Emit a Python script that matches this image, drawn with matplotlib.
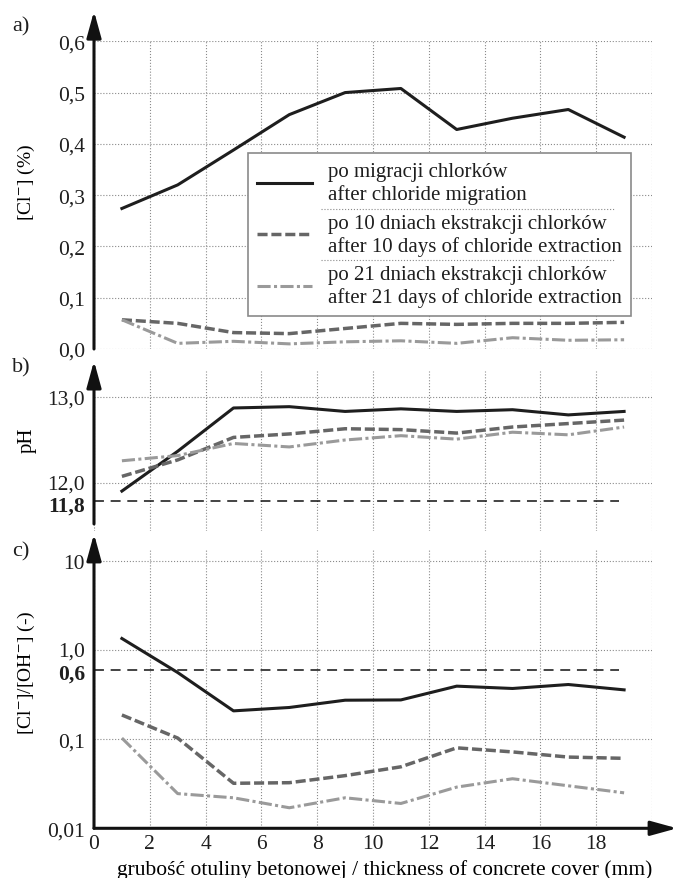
import matplotlib.pyplot as plt
from matplotlib.lines import Line2D
from matplotlib.transforms import ScaledTranslation

plt.rcParams["font.family"] = ["Liberation Serif", "DejaVu Serif"]
plt.rcParams["mathtext.fontset"] = "stix"
plt.rcParams["font.size"] = 15
plt.rcParams["text.color"] = "#1e1e1e"

# concrete cover depth (mm)
cover = [1, 3, 5, 7, 9, 11, 13, 15, 17, 19]

# a) chloride content [Cl-] (%)
cl_migration = [0.274, 0.32, 0.388, 0.457, 0.5, 0.508, 0.428, 0.45, 0.467, 0.413]
cl_10days = [0.057, 0.05, 0.032, 0.03, 0.04, 0.05, 0.048, 0.05, 0.05, 0.052]
cl_21days = [0.057, 0.011, 0.015, 0.01, 0.014, 0.016, 0.011, 0.022, 0.017, 0.018]

# b) pH
ph_migration = [11.91, 12.37, 12.87, 12.885, 12.83, 12.86, 12.83, 12.85, 12.79, 12.83]
ph_10days = [12.08, 12.27, 12.53, 12.57, 12.63, 12.62, 12.58, 12.65, 12.69, 12.73]
ph_21days = [12.26, 12.32, 12.46, 12.42, 12.5, 12.55, 12.51, 12.59, 12.56, 12.65]

# c) [Cl-]/[OH-] ratio
ratio_migration = [1.35, 0.56, 0.208, 0.227, 0.274, 0.276, 0.394, 0.371, 0.411, 0.358]
ratio_10days = [0.187, 0.103, 0.032, 0.0325, 0.039, 0.049, 0.08, 0.072, 0.063, 0.061]
ratio_21days = [0.103, 0.0245, 0.022, 0.017, 0.022, 0.019, 0.029, 0.036, 0.03, 0.025]

ph_limit = 11.8
ratio_limit = 0.6
limit_end = 18.8

series_labels = [
    "po migracji chlorków\nafter chloride migration",
    "po 10 dniach ekstrakcji chlorków\nafter 10 days of chloride extraction",
    "po 21 dniach ekstrakcji chlorków\nafter 21 days of chloride extraction",
]

x_ticks = list(range(0, 21, 2))
x_ticklabels = [str(t) for t in x_ticks[:-1]] + [""]

TICK_FS = 15.5
LEG_FS = 15
LABEL_FS = 14

styles = [
    dict(color="#1e1e1e", lw=2.2, ls="-"),
    dict(color="#666666", lw=2.5, ls=(0, (2.9, 1.1))),
    dict(color="#9a9a9a", lw=2.2, ls=(0, (4.3, 1.1, 1.0, 1.1))),
]

W, H = 676, 879
fig = plt.figure(figsize=(W / 100, H / 100), dpi=100)


def add_panel(top_px, bottom_px):
    return fig.add_axes([94 / W, 1 - bottom_px / H, 558 / W, (bottom_px - top_px) / H])


def arrow(ax, start, end):
    ax.annotate(
        "",
        xy=end,
        xytext=start,
        xycoords="axes fraction",
        textcoords="axes fraction",
        arrowprops=dict(
            arrowstyle="-|>,head_length=0.8,head_width=0.22",
            mutation_scale=20,
            lw=2.2,
            color="#111111",
            shrinkA=0,
            shrinkB=0,
        ),
    )


def style_axes(ax):
    for sp in ax.spines.values():
        sp.set_visible(False)
    ax.set_xlim(0, 20)
    ax.set_xticks(x_ticks)
    ax.grid(True, which="major", ls=":", lw=0.8, color="#8a8a8a")
    ax.set_axisbelow(True)
    ax.tick_params(which="both", length=0, pad=6.5, labelsize=TICK_FS, colors="#1e1e1e")


def nudge(label, dy_px):
    label.set_transform(label.get_transform() + ScaledTranslation(0, dy_px / 100, fig.dpi_scale_trans))


ax_a = add_panel(42.3, 350)
ax_b = add_panel(372, 532)
ax_c = add_panel(550, 829.3)

# ---- a)
style_axes(ax_a)
ax_a.set_ylim(0, 0.6)
ax_a.set_yticks([i / 10 for i in range(7)], labels=[f"0,{i}" for i in range(7)])
ax_a.tick_params(axis="x", labelbottom=False)
for vals, st in zip([cl_migration, cl_10days, cl_21days], styles):
    ax_a.plot(cover, vals, **st)
arrow(ax_a, (0, 0), (0, 1.098))
ax_a.set_ylabel(r"[Cl$^{-}$] (%)", fontsize=LABEL_FS)
ax_a.yaxis.set_label_coords(-0.102, 0.546)

handles = [Line2D([], [], **st) for st in styles]
leg = ax_a.legend(
    handles,
    series_labels,
    loc="upper left",
    bbox_to_anchor=(0.276, 0.637),
    borderaxespad=0,
    fancybox=False,
    edgecolor="#8a8a8a",
    framealpha=1,
    handlelength=2.6,
    handletextpad=0.8,
    labelspacing=0.45,
    borderpad=0.45,
    fontsize=LEG_FS,
)
leg.get_frame().set_linewidth(1.2)

# ---- b)
style_axes(ax_b)
ax_b.set_ylim(11.449, 13.297)
ax_b.set_yticks([12, 13], labels=["12,0", "13,0"])
ax_b.set_yticks([ph_limit], labels=["11,8"], minor=True)
for lab in ax_b.get_yticklabels(minor=True):
    lab.set_fontweight("bold")
    nudge(lab, -2)
nudge(ax_b.get_yticklabels()[0], 2)
ax_b.tick_params(axis="x", labelbottom=False)
for vals, st in zip([ph_migration, ph_10days, ph_21days], styles):
    ax_b.plot(cover, vals, **st)
ax_b.hlines(ph_limit, 0, limit_end, color="#111111", lw=1.1, linestyles=(0, (6.5, 4.4)))
arrow(ax_b, (0, 0.044), (0, 1.0625))
ax_b.set_ylabel("pH", fontsize=LABEL_FS + 1)
ax_b.yaxis.set_label_coords(-0.102, 0.575)

# ---- c)
style_axes(ax_c)
ax_c.set_yscale("log")
ax_c.set_ylim(0.01, 13.64)
ax_c.set_yticks([0.01, 0.1, 1, 10], labels=["0,01", "0,1", "1,0", "10"])
ax_c.set_yticks([ratio_limit], labels=["0,6"], minor=True)
for lab in ax_c.get_yticklabels(minor=True):
    lab.set_fontweight("bold")
    nudge(lab, -1.5)
nudge(ax_c.get_yticklabels()[2], 1.5)
ax_c.set_xticks(x_ticks, labels=x_ticklabels)
ax_c.tick_params(axis="x", pad=4)
for vals, st in zip([ratio_migration, ratio_10days, ratio_21days], styles):
    ax_c.plot(cover, vals, **st)
ax_c.hlines(ratio_limit, 0, limit_end, color="#111111", lw=1.1, linestyles=(0, (6.5, 4.4)))
arrow(ax_c, (0, 0), (0, 1.054))
arrow(ax_c, (0, 0), (1.045, 0))
ax_c.set_ylabel(r"[Cl$^{-}$]/[OH$^{-}$] (-)", fontsize=LABEL_FS)
ax_c.yaxis.set_label_coords(-0.102, 0.56)
ax_c.set_xlabel("grubość otuliny betonowej / thickness of concrete cover (mm)", fontsize=15.5)
ax_c.xaxis.set_label_coords(0.5215, -0.146)
ax_c.xaxis.label.set_va("center")

# panel letters
fig.text(12 / W, 1 - 27 / H, "a)", fontsize=16, va="center")
fig.text(12 / W, 1 - 368 / H, "b)", fontsize=16, va="center")
fig.text(12 / W, 1 - 552 / H, "c)", fontsize=16, va="center")

# dotted separators between legend entries
fig.canvas.draw()
renderer = fig.canvas.get_renderer()
frame_box = leg.get_frame().get_window_extent(renderer)
text_boxes = [t.get_window_extent(renderer) for t in leg.get_texts()]
inv = fig.transFigure.inverted()
for upper, lower in zip(text_boxes[:-1], text_boxes[1:]):
    y_sep = (upper.y0 + lower.y1) / 2
    x0 = upper.x0 - 7
    x1 = frame_box.x1 - 17
    (fx0, fy), (fx1, _) = inv.transform([(x0, y_sep), (x1, y_sep)])
    fig.add_artist(Line2D([fx0, fx1], [fy, fy], transform=fig.transFigure,
                          ls=":", lw=0.8, color="#8a8a8a", zorder=10))

fig.savefig("out.png", dpi=100)
